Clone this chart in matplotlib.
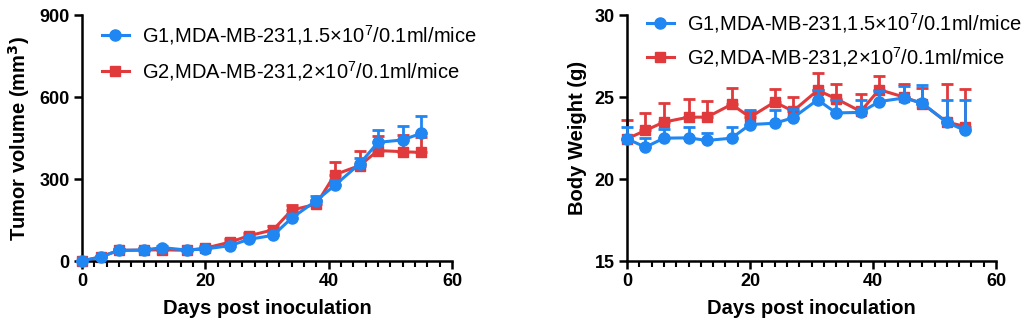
import matplotlib
matplotlib.use('Agg')
import matplotlib.pyplot as plt
from matplotlib.ticker import MultipleLocator

plt.rcParams['font.family'] = ['Liberation Sans', 'DejaVu Sans']
plt.rcParams['mathtext.fontset'] = 'custom'
plt.rcParams['mathtext.rm'] = 'Liberation Sans'
plt.rcParams['mathtext.it'] = 'Liberation Sans'

days = [0, 3, 6, 10, 13, 17, 20, 24, 27, 31, 34, 38, 41, 45, 48, 52, 55]

# tumor volume (mm3), mean and upper SEM
tv_g1 = [0, 15, 39, 40, 49, 40, 44, 56, 79, 94, 157, 221, 277, 355, 434, 443, 467]
tv_g1_err = [0, 4, 5, 6, 7, 5, 6, 8, 10, 10, 14, 15, 18, 22, 46, 52, 65]
tv_g2 = [0, 15, 39, 40, 41, 39, 47, 69, 92, 114, 186, 208, 316, 349, 404, 400, 397]
tv_g2_err = [0, 5, 6, 8, 8, 6, 8, 10, 12, 15, 18, 15, 48, 52, 55, 62, 55]

# body weight (g), mean and upper SEM
bw_g1 = [22.45, 21.94, 22.49, 22.51, 22.35, 22.49, 23.32, 23.40, 23.73, 24.83,
         24.03, 24.06, 24.72, 24.94, 24.63, 23.45, 22.96]
bw_g1_err = [0.75, 0.57, 0.53, 0.69, 0.44, 0.71, 0.86, 0.78, 0.56, 0.62,
             0.81, 0.74, 0.65, 0.71, 1.08, 1.35, 1.84]
bw_g2 = [22.45, 22.96, 23.47, 23.77, 23.77, 24.55, 23.77, 24.69, 24.14, 25.41,
         24.90, 24.12, 25.45, 25.00, 24.60, 23.47, 23.20]
bw_g2_err = [1.16, 1.08, 1.18, 1.09, 0.96, 1.00, 0.40, 0.78, 0.86, 1.06,
             0.92, 1.08, 0.83, 0.77, 0.95, 2.35, 2.31]

labels = ['G1,MDA-MB-231,1.5×10$^{7}$/0.1ml/mice',
          'G2,MDA-MB-231,2×10$^{7}$/0.1ml/mice']
BLUE = '#1f86f2'
RED = '#e03a3c'


def draw(ax, g1, e1, g2, e2):
    lines = []
    for y, e, c, m, ms, z in [(g2, e2, RED, 's', 7.5, 2), (g1, e1, BLUE, 'o', 8, 3)]:
        ax.errorbar(days, y, yerr=[[0] * len(e), e], fmt='none', ecolor=c,
                    elinewidth=2, capsize=4.5, capthick=2, zorder=z, clip_on=False)
        ln, = ax.plot(days, y, color=c, marker=m, markersize=ms, lw=2.2,
                      zorder=z + 0.5, clip_on=False)
        lines.append(ln)
    return lines[::-1]


def style(ax, ylab):
    for s in ['top', 'right']:
        ax.spines[s].set_visible(False)
    for s in ['left', 'bottom']:
        ax.spines[s].set_linewidth(1.8)
    ax.set_xlim(0, 60)
    ax.xaxis.set_major_locator(MultipleLocator(20))
    ax.xaxis.set_minor_locator(MultipleLocator(2))
    ax.tick_params(which='major', length=6, width=1.8, labelsize=13, pad=3)
    ax.tick_params(which='minor', length=4, width=1.5)
    for t in ax.get_xticklabels() + ax.get_yticklabels():
        t.set_fontweight('bold')
    ax.set_xlabel('Days post inoculation', fontsize=14.5, fontweight='bold', labelpad=6)
    ax.set_ylabel(ylab, fontsize=14.5, fontweight='bold', labelpad=5)


fig = plt.figure(figsize=(10.3, 3.33), dpi=100)
ax1 = fig.add_axes([82 / 1030, 72 / 333, 370 / 1030, 246 / 333])
ax2 = fig.add_axes([627 / 1030, 72 / 333, 369 / 1030, 246 / 333])

h1 = draw(ax1, tv_g1, tv_g1_err, tv_g2, tv_g2_err)
ax1.set_ylim(0, 900)
ax1.set_yticks([0, 300, 600, 900])
style(ax1, 'Tumor volume (mm$^{\\mathbf{3}}$)')
ax1.legend(h1, labels, loc='upper left', bbox_to_anchor=(0.032, 1.0), frameon=False,
           fontsize=14.5, handlelength=1.35, handletextpad=0.65, labelspacing=0.6,
           borderaxespad=0)

h2 = draw(ax2, bw_g1, bw_g1_err, bw_g2, bw_g2_err)
ax2.set_ylim(15, 30)
ax2.set_yticks([15, 20, 25, 30])
style(ax2, 'Body Weight (g)')
ax2.legend(h2, labels, loc='upper left', bbox_to_anchor=(0.032, 1.05), frameon=False,
           fontsize=14.5, handlelength=1.35, handletextpad=0.65, labelspacing=0.5,
           borderaxespad=0)

fig.savefig('out.png', dpi=100)
